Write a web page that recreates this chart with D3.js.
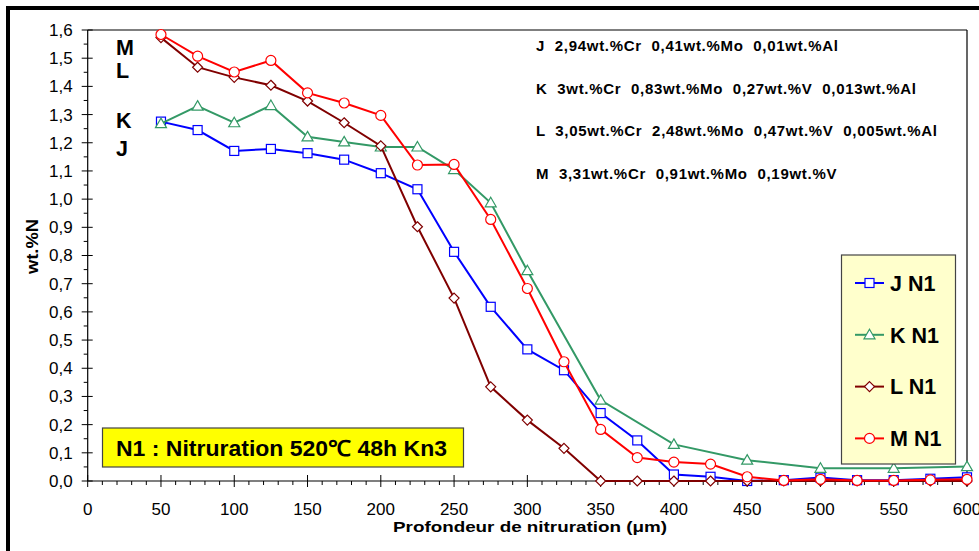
<!DOCTYPE html>
<html><head><meta charset="utf-8">
<script src="https://cdn.jsdelivr.net/npm/d3@7"></script>
<style>body{margin:0;background:#fff;}svg{display:block;font-family:"Liberation Sans",Arial,sans-serif;}</style>
</head><body>
<svg id="c" width="979" height="551"></svg>
<script>
const depths = [50,75,100,125,150,175,200,225,250,275,300,325,350,375,400,425,450,475,500,525,550,575,600];
const seriesJ = [1.275,1.245,1.171,1.178,1.163,1.14,1.092,1.035,0.813,0.618,0.467,0.393,0.241,0.144,0.023,0.015,0.0,0.003,0.012,0.003,0.003,0.008,0.013];
const seriesK = [1.268,1.330,1.271,1.332,1.221,1.203,1.185,1.185,1.105,0.987,0.746,null,0.287,null,0.130,null,0.074,null,0.045,null,0.045,null,0.051];
const seriesL = [1.573,1.468,1.432,1.404,1.348,1.271,1.189,0.902,0.649,0.334,0.216,0.116,0,0,0,0,0,0,0,0,0,0,0];
const seriesM = [1.584,1.507,1.451,1.492,1.377,1.341,1.297,1.121,1.123,0.928,0.683,0.423,0.183,0.083,0.067,0.060,0.015,0.002,0.006,0.002,0.002,0.004,0.006];
const seriesNames = ["J N1","K N1","L N1","M N1"];
const seriesColors = ["#0000FF","#339966","#800000","#FF0000"];
const seriesSymbols = ["square","triangle","diamond","circle"];
const xTicks = [0,50,100,150,200,250,300,350,400,450,500,550,600];
const yTicks = [0,0.1,0.2,0.3,0.4,0.5,0.6,0.7,0.8,0.9,1.0,1.1,1.2,1.3,1.4,1.5,1.6];
const compositions = [
  "J  2,94wt.%Cr  0,41wt.%Mo  0,01wt.%Al",
  "K  3wt.%Cr  0,83wt.%Mo  0,27wt.%V  0,013wt.%Al",
  "L  3,05wt.%Cr  2,48wt.%Mo  0,47wt.%V  0,005wt.%Al",
  "M  3,31wt.%Cr  0,91wt.%Mo  0,19wt.%V"
];
const sideLabels = [{t:"M",v:1.537},{t:"L",v:1.457},{t:"K",v:1.28},{t:"J",v:1.182}];
const boxLabel = "N1 : Nitruration 520\u2103 48h Kn3";

const svg = d3.select("#c");
const L = 87.7, R = 967, T = 30, B = 481;
const x = d3.scaleLinear().domain([0,600]).range([L,R]);
const y = d3.scaleLinear().domain([0,1.6]).range([B,T]);

// outer thick border
svg.append("rect").attr("x",8).attr("y",8).attr("width",1000).attr("height",600)
  .attr("fill","none").attr("stroke","#000").attr("stroke-width",4);

// plot frame top and right
svg.append("line").attr("x1",L).attr("x2",R).attr("y1",T).attr("y2",T).attr("stroke","#000").attr("stroke-width",1.2);
svg.append("line").attr("x1",R).attr("x2",R).attr("y1",T).attr("y2",B).attr("stroke","#000").attr("stroke-width",1.2);

// y axis
const yAx = svg.append("g").attr("transform",`translate(${L},0)`);
yAx.append("line").attr("x1",0).attr("x2",0).attr("y1",T).attr("y2",B).attr("stroke","#000").attr("stroke-width",1.2);
d3.range(0,1.6001,0.05).forEach((v,i)=>{
  const major = i%2===0;
  yAx.append("line").attr("x1",major?-6:-4).attr("x2",major?5:0).attr("y1",y(v)).attr("y2",y(v)).attr("stroke","#000").attr("stroke-width",1);
});
yAx.selectAll("text.yt").data(yTicks).enter().append("text").attr("class","yt")
  .attr("x",-15).attr("y",d=>y(d)).attr("dy","0.35em").attr("text-anchor","end")
  .attr("font-size",17).text(d=>d.toFixed(1).replace(".",","));

// x axis
const xAx = svg.append("g").attr("transform",`translate(0,${B})`);
xAx.append("line").attr("x1",L).attr("x2",R).attr("y1",0).attr("y2",0).attr("stroke","#000").attr("stroke-width",1.2);
d3.range(0,601,10).forEach(v=>{
  const major = v%50===0;
  xAx.append("line").attr("x1",x(v)).attr("x2",x(v)).attr("y1",major?-6:0).attr("y2",major?6:4).attr("stroke","#000").attr("stroke-width",1);
});
xAx.selectAll("text.xt").data(xTicks).enter().append("text").attr("class","xt")
  .attr("x",d=>x(d)).attr("y",33.5).attr("text-anchor","middle")
  .attr("font-size",17).text(d=>d);

// axis titles
svg.append("text").attr("x",393).attr("y",532).attr("text-anchor","start")
  .attr("font-size",15).attr("font-weight","bold")
  .attr("textLength",274).attr("lengthAdjust","spacingAndGlyphs")
  .text("Profondeur de nitruration (\u03bcm)");
svg.append("text").attr("transform","translate(38,274) rotate(-90)").attr("text-anchor","start")
  .attr("font-size",16).attr("font-weight","bold")
  .attr("textLength",55).attr("lengthAdjust","spacingAndGlyphs").text("wt.%N");

// symbols
function drawSymbol(g, type, cx, cy, color){
  if(type==="circle"){
    g.append("circle").attr("cx",cx).attr("cy",cy).attr("r",5).attr("fill","#fff").attr("stroke",color).attr("stroke-width",1.2);
  } else if(type==="square"){
    g.append("rect").attr("x",cx-4.5).attr("y",cy-4.5).attr("width",9).attr("height",9).attr("fill","#fff").attr("stroke",color).attr("stroke-width",1.2);
  } else if(type==="triangle"){
    g.append("path").attr("d",`M${cx},${cy-5.5}L${cx+5.5},${cy+4}L${cx-5.5},${cy+4}Z`).attr("fill","#fff").attr("stroke",color).attr("stroke-width",1.2);
  } else {
    g.append("path").attr("d",`M${cx},${cy-5}L${cx+5},${cy}L${cx},${cy+5}L${cx-5},${cy}Z`).attr("fill","#fff").attr("stroke",color).attr("stroke-width",1.2);
  }
}

const allSeries = [seriesJ,seriesK,seriesL,seriesM];
const line = d3.line().x(d=>x(d[0])).y(d=>y(d[1]));
const plotG = svg.append("g");
allSeries.forEach((s,i)=>{
  const pts = depths.map((d,j)=>[d,s[j]]).filter(p=>p[1]!==null);
  const g = plotG.append("g");
  g.append("path").datum(pts).attr("d",line).attr("fill","none").attr("stroke",seriesColors[i]).attr("stroke-width",2);
  pts.forEach(p=>drawSymbol(g,seriesSymbols[i],x(p[0]),y(p[1]),seriesColors[i]));
});

// side labels M L K J
sideLabels.forEach(s=>{
  svg.append("text").attr("x",116).attr("y",y(s.v)).attr("dy","0.36em")
    .attr("font-size",21.5).attr("font-weight","bold").text(s.t);
});

// compositions
compositions.forEach((c,i)=>{
  svg.append("text").attr("x",536).attr("y",46+i*42.5).attr("dy","0.36em")
    .attr("font-size",15).attr("font-weight","bold").attr("letter-spacing",0.7)
    .style("white-space","pre").attr("xml:space","preserve").text(c);
});

// legend
const lg = svg.append("g");
lg.append("rect").attr("x",841.5).attr("y",255).attr("width",114).attr("height",209)
  .attr("fill","#FFFFCC").attr("stroke","#444").attr("stroke-width",1.2);
seriesNames.forEach((n,i)=>{
  const cy = 283 + i*51.8;
  lg.append("line").attr("x1",855).attr("x2",884).attr("y1",cy).attr("y2",cy).attr("stroke",seriesColors[i]).attr("stroke-width",2);
  drawSymbol(lg,seriesSymbols[i],869.5,cy,seriesColors[i]);
  lg.append("text").attr("x",890).attr("y",cy).attr("dy","0.36em").attr("font-size",21.5).attr("font-weight","bold").text(n);
});

// yellow box
svg.append("rect").attr("x",102.5).attr("y",428).attr("width",361).attr("height",39)
  .attr("fill","#FFFF00").attr("stroke","#444").attr("stroke-width",1.2);
svg.append("text").attr("x",116).attr("y",448).attr("dy","0.36em").attr("font-size",22).attr("font-weight","bold")
  .attr("textLength",331).attr("lengthAdjust","spacingAndGlyphs").text(boxLabel);
</script>
</body></html>
